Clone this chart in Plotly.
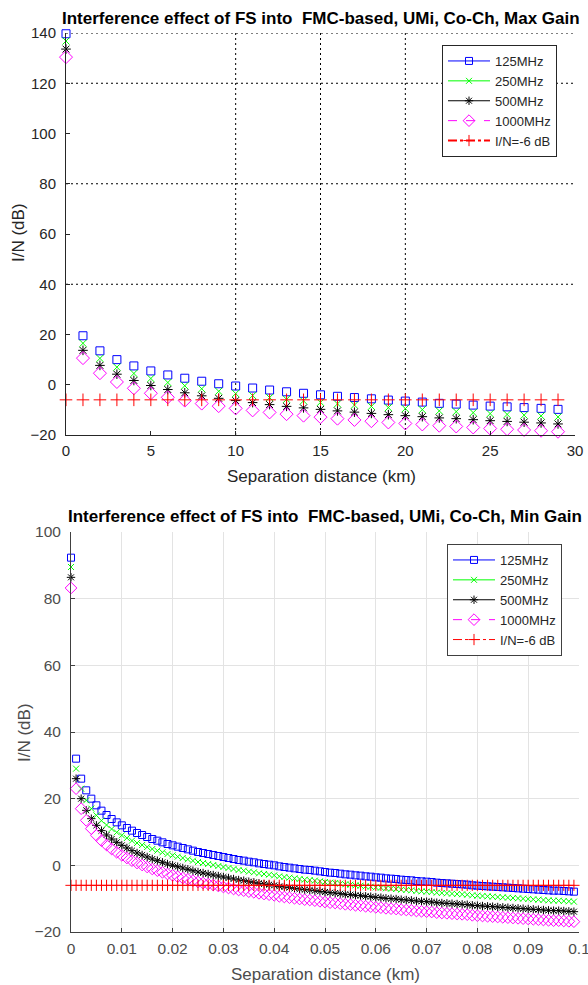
import plotly.graph_objects as go

# ---------------- data: top chart (Max Gain) ----------------
top_x = list(range(0, 30))
top_125 = [139.7, 19.5, 13.5, 10.0, 7.5, 5.5, 3.9, 2.6, 1.4, 0.4,
           -0.5, -1.3, -2.1, -2.8, -3.4, -4.0, -4.6, -5.1, -5.6, -6.1,
           -6.5, -6.9, -7.4, -7.7, -8.1, -8.5, -8.8, -9.1, -9.4, -9.8]
top_250 = [136.8, 16.5, 10.5, 7.0, 4.5, 2.5, 0.9, -0.4, -1.6, -2.6,
           -3.5, -4.3, -5.1, -5.8, -6.4, -7.0, -7.6, -8.1, -8.6, -9.1,
           -9.5, -9.9, -10.4, -10.7, -11.1, -11.5, -11.8, -12.1, -12.4, -12.8]
top_500 = [133.6, 13.7, 7.7, 4.2, 1.7, -0.3, -1.9, -3.2, -4.4, -5.4,
           -6.3, -7.1, -7.9, -8.6, -9.2, -9.8, -10.4, -10.9, -11.4, -11.9,
           -12.3, -12.7, -13.2, -13.5, -13.9, -14.3, -14.6, -14.9, -15.2, -15.6]
top_1000 = [130.4, 10.6, 4.6, 1.1, -1.4, -3.4, -5.0, -6.3, -7.5, -8.5,
            -9.4, -10.2, -11.0, -11.7, -12.3, -12.9, -13.5, -14.0, -14.5, -15.0,
            -15.4, -15.8, -16.3, -16.6, -17.0, -17.4, -17.7, -18.0, -18.3, -18.7]
top_thr = [-6] * 30
top_xticks = [0, 5, 10, 15, 20, 25, 30]
top_yticks = [-20, 0, 20, 40, 60, 80, 100, 120, 140]
top_hgrid = [40, 80, 120, 140]
top_vgrid = [10, 15, 20]

# ---------------- data: bottom chart (Min Gain) ----------------
bot_x = [i / 1000 for i in range(100)]
bot_125 = [92.3,
           32.0, 26.0, 22.5, 20.0, 18.0, 16.4, 15.1, 13.9, 12.9, 12.0,
           11.2, 10.4, 9.7, 9.1, 8.5, 7.9, 7.4, 6.9, 6.4, 6.0,
           5.6, 5.2, 4.8, 4.4, 4.0, 3.7, 3.4, 3.1, 2.8, 2.5,
           2.2, 1.9, 1.6, 1.4, 1.1, 0.9, 0.6, 0.4, 0.2, 0.0,
           -0.3, -0.5, -0.7, -0.9, -1.1, -1.3, -1.4, -1.6, -1.8, -2.0,
           -2.2, -2.3, -2.5, -2.7, -2.8, -3.0, -3.1, -3.3, -3.4, -3.6,
           -3.7, -3.9, -4.0, -4.1, -4.3, -4.4, -4.5, -4.7, -4.8, -4.9,
           -5.0, -5.2, -5.3, -5.4, -5.5, -5.6, -5.7, -5.8, -6.0, -6.1,
           -6.2, -6.3, -6.4, -6.5, -6.6, -6.7, -6.8, -6.9, -7.0, -7.1,
           -7.2, -7.3, -7.4, -7.5, -7.6, -7.6, -7.7, -7.8, -7.9]
bot_250 = [89.5,
           29.0, 23.0, 19.5, 17.0, 15.0, 13.4, 12.1, 10.9, 9.9, 9.0,
           8.2, 7.4, 6.7, 6.1, 5.5, 4.9, 4.4, 3.9, 3.4, 3.0,
           2.6, 2.2, 1.8, 1.4, 1.0, 0.7, 0.4, 0.1, -0.2, -0.5,
           -0.8, -1.1, -1.4, -1.6, -1.9, -2.1, -2.4, -2.6, -2.8, -3.0,
           -3.3, -3.5, -3.7, -3.9, -4.1, -4.3, -4.4, -4.6, -4.8, -5.0,
           -5.2, -5.3, -5.5, -5.7, -5.8, -6.0, -6.1, -6.3, -6.4, -6.6,
           -6.7, -6.9, -7.0, -7.1, -7.3, -7.4, -7.5, -7.7, -7.8, -7.9,
           -8.0, -8.2, -8.3, -8.4, -8.5, -8.6, -8.7, -8.8, -9.0, -9.1,
           -9.2, -9.3, -9.4, -9.5, -9.6, -9.7, -9.8, -9.9, -10.0, -10.1,
           -10.2, -10.3, -10.4, -10.5, -10.6, -10.6, -10.7, -10.8, -10.9]
bot_500 = [86.4,
           26.0, 20.0, 16.5, 14.0, 12.0, 10.4, 9.1, 7.9, 6.9, 6.0,
           5.2, 4.4, 3.7, 3.1, 2.5, 1.9, 1.4, 0.9, 0.4, 0.0,
           -0.4, -0.8, -1.2, -1.6, -2.0, -2.3, -2.6, -2.9, -3.2, -3.5,
           -3.8, -4.1, -4.4, -4.6, -4.9, -5.1, -5.4, -5.6, -5.8, -6.0,
           -6.3, -6.5, -6.7, -6.9, -7.1, -7.3, -7.4, -7.6, -7.8, -8.0,
           -8.2, -8.3, -8.5, -8.7, -8.8, -9.0, -9.1, -9.3, -9.4, -9.6,
           -9.7, -9.9, -10.0, -10.1, -10.3, -10.4, -10.5, -10.7, -10.8, -10.9,
           -11.0, -11.2, -11.3, -11.4, -11.5, -11.6, -11.7, -11.8, -12.0, -12.1,
           -12.2, -12.3, -12.4, -12.5, -12.6, -12.7, -12.8, -12.9, -13.0, -13.1,
           -13.2, -13.3, -13.4, -13.5, -13.6, -13.6, -13.7, -13.8, -13.9]
bot_1000 = [83.2,
            23.0, 17.0, 13.5, 11.0, 9.0, 7.4, 6.1, 4.9, 3.9, 3.0,
            2.2, 1.4, 0.7, 0.1, -0.5, -1.1, -1.6, -2.1, -2.6, -3.0,
            -3.4, -3.8, -4.2, -4.6, -5.0, -5.3, -5.6, -5.9, -6.2, -6.5,
            -6.8, -7.1, -7.4, -7.6, -7.9, -8.1, -8.4, -8.6, -8.8, -9.0,
            -9.3, -9.5, -9.7, -9.9, -10.1, -10.3, -10.4, -10.6, -10.8, -11.0,
            -11.2, -11.3, -11.5, -11.7, -11.8, -12.0, -12.1, -12.3, -12.4, -12.6,
            -12.7, -12.9, -13.0, -13.1, -13.3, -13.4, -13.5, -13.7, -13.8, -13.9,
            -14.0, -14.2, -14.3, -14.4, -14.5, -14.6, -14.7, -14.8, -15.0, -15.1,
            -15.2, -15.3, -15.4, -15.5, -15.6, -15.7, -15.8, -15.9, -16.0, -16.1,
            -16.2, -16.3, -16.4, -16.5, -16.6, -16.6, -16.7, -16.8, -16.9]
bot_thr = [-6] * 100
bot_xticks = [0, 0.01, 0.02, 0.03, 0.04, 0.05, 0.06, 0.07, 0.08, 0.09, 0.1]
bot_xticktext = ["0", "0.01", "0.02", "0.03", "0.04", "0.05", "0.06", "0.07", "0.08", "0.09", "0.1"]
bot_yticks = [-20, 0, 20, 40, 60, 80, 100]

names = ["125MHz", "250MHz", "500MHz", "1000MHz", "I/N=-6 dB"]
colors = ["#0000FF", "#00FF00", "#000000", "#FF00FF", "#FF0000"]
symbols = ["square-open", "x-thin-open", "asterisk-open", "diamond-open", "cross-thin-open"]
msizes = [8, 7, 8, 10, 9]
dashes = ["solid", "solid", "solid", "dash", "dashdot"]

FONT = "Liberation Sans, Arial, sans-serif"
W, H = 588, 985

fig = go.Figure()

top_series = [top_125, top_250, top_500, top_1000, top_thr]
bot_series = [bot_125, bot_250, bot_500, bot_1000, bot_thr]

for i in range(5):
    fig.add_trace(go.Scatter(
        x=top_x, y=top_series[i], mode="markers", showlegend=False,
        xaxis="x", yaxis="y", cliponaxis=False,
        marker=dict(symbol=symbols[i], size=msizes[i], color=colors[i],
                    line=dict(width=1, color=colors[i]))))
    fig.add_trace(go.Scatter(
        x=bot_x, y=bot_series[i], mode="markers", showlegend=False,
        xaxis="x2", yaxis="y2", cliponaxis=False,
        marker=dict(symbol=symbols[i], size=msizes[i] - 1, color=colors[i],
                    line=dict(width=1, color=colors[i]))))

# legend entries (line + marker samples as in the original legends)
for leg, xa, ya, redw in (("legend", "x", "y", 2), ("legend2", "x2", "y2", 1)):
    for i in range(5):
        fig.add_trace(go.Scatter(
            x=[None], y=[None], mode="lines+markers", name=names[i],
            legend=leg, xaxis=xa, yaxis=ya,
            line=dict(color=colors[i], width=(redw if i == 4 else 1), dash=dashes[i]),
            marker=dict(symbol=symbols[i], size=msizes[i] - 1, color=colors[i],
                        line=dict(width=1, color=colors[i]))))

# dotted partial grid in the top chart
shapes = []
for g in top_hgrid:
    shapes.append(dict(type="line", xref="x", yref="y", x0=top_xticks[0], x1=top_xticks[-1],
                       y0=g, y1=g, line=dict(color="#000000", width=1, dash="2px,3px"), layer="below"))
for g in top_vgrid:
    shapes.append(dict(type="line", xref="x", yref="y", x0=g, x1=g,
                       y0=top_yticks[0], y1=top_yticks[-1],
                       line=dict(color="#000000", width=1, dash="2px,3px"), layer="below"))

tick_top = dict(family=FONT, size=15, color="#262626")
tick_bot = dict(family=FONT, size=15.5, color="#4d4d4d")

fig.update_layout(
    width=W, height=H,
    margin=dict(l=0, r=0, t=0, b=0, autoexpand=False),
    paper_bgcolor="white", plot_bgcolor="white",
    shapes=shapes,
    xaxis=dict(domain=[66 / W, 575 / W], range=[0, 30], anchor="y", automargin=False,
               tickvals=top_xticks, showgrid=False, zeroline=False,
               showline=True, linecolor="#262626", linewidth=1,
               ticks="inside", ticklen=4, tickcolor="#262626", tickfont=tick_top,
               ticklabelstandoff=2, ticklabeloverflow="allow"),
    yaxis=dict(domain=[(H - 435) / H, (H - 33) / H], range=[-20, 140], anchor="x", automargin=False,
               tickvals=top_yticks, showgrid=False, zeroline=False,
               showline=True, linecolor="#262626", linewidth=1,
               ticks="inside", ticklen=4, tickcolor="#262626", tickfont=tick_top,
               ticklabelstandoff=6),
    xaxis2=dict(domain=[71 / W, 579 / W], range=[0, 0.1], anchor="y2", automargin=False,
                tickvals=bot_xticks, ticktext=bot_xticktext,
                showgrid=True, gridcolor="#e3e3e3", gridwidth=1, zeroline=False,
                showline=True, linecolor="#404040", linewidth=1,
                ticks="inside", ticklen=4, tickcolor="#404040", tickfont=tick_bot,
                ticklabelstandoff=2, ticklabeloverflow="allow"),
    yaxis2=dict(domain=[(H - 932) / H, (H - 532) / H], range=[-20, 100], anchor="x2", automargin=False,
                tickvals=bot_yticks, showgrid=True, gridcolor="#e3e3e3", gridwidth=1,
                zeroline=False, showline=True, linecolor="#404040", linewidth=1,
                ticks="inside", ticklen=4, tickcolor="#404040", tickfont=tick_bot,
                ticklabelstandoff=6),
    legend=dict(x=442 / W, y=1 - 45 / H, xanchor="left", yanchor="top",
                bgcolor="white", bordercolor="#262626", borderwidth=1,
                font=dict(family=FONT, size=13, color="#262626"),
                tracegroupgap=0, itemwidth=42),
    legend2=dict(x=447 / W, y=1 - 544 / H, xanchor="left", yanchor="top",
                 bgcolor="white", bordercolor="#404040", borderwidth=1,
                 font=dict(family=FONT, size=13, color="#262626"),
                 tracegroupgap=0, itemwidth=42),
    annotations=[
        dict(text="<b>Interference effect of FS into  FMC-based, UMi, Co-Ch, Max Gain</b>",
             xref="paper", yref="paper", x=321 / W, y=1 - 18 / H, showarrow=False,
             xanchor="center", yanchor="middle", font=dict(family=FONT, size=17, color="#000000")),
        dict(text="<b>Interference effect of FS into  FMC-based, UMi, Co-Ch, Min Gain</b>",
             xref="paper", yref="paper", x=325 / W, y=1 - 516 / H, showarrow=False,
             xanchor="center", yanchor="middle", font=dict(family=FONT, size=17, color="#000000")),
        dict(text="Separation distance (km)", xref="paper", yref="paper",
             x=321 / W, y=1 - 476 / H, showarrow=False, xanchor="center", yanchor="middle",
             font=dict(family=FONT, size=17, color="#262626")),
        dict(text="Separation distance (km)", xref="paper", yref="paper",
             x=325 / W, y=1 - 974 / H, showarrow=False, xanchor="center", yanchor="middle",
             font=dict(family=FONT, size=17, color="#4d4d4d")),
        dict(text="I/N (dB)", xref="paper", yref="paper", textangle=-90,
             x=18 / W, y=1 - 233 / H, showarrow=False, xanchor="center", yanchor="middle",
             font=dict(family=FONT, size=17, color="#262626")),
        dict(text="I/N (dB)", xref="paper", yref="paper", textangle=-90,
             x=24 / W, y=1 - 732 / H, showarrow=False, xanchor="center", yanchor="middle",
             font=dict(family=FONT, size=17, color="#4d4d4d")),
    ],
)

fig.write_html("out.html")
